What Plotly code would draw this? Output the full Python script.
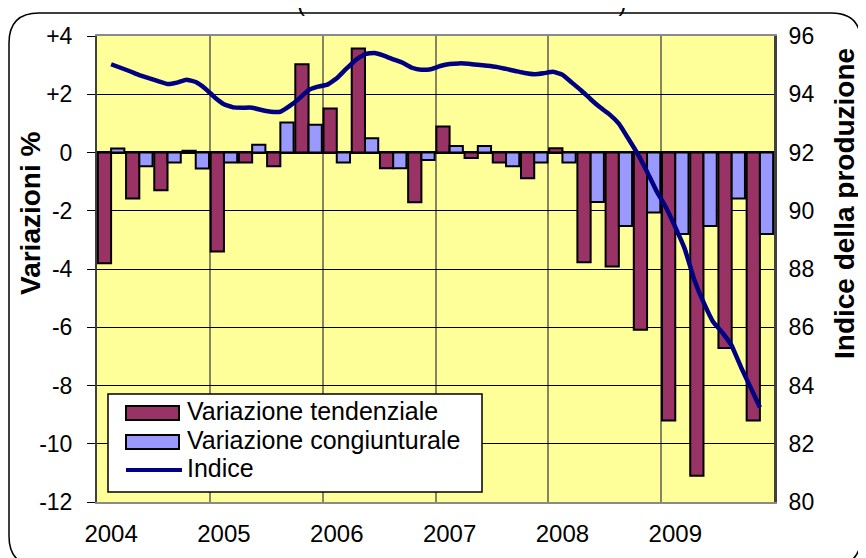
import plotly.graph_objects as go

# ---------------- data ----------------
years = [2004, 2005, 2006, 2007, 2008, 2009]
year_labels = ["2004", "2005", "2006", "2007", "2008", "2009"]

# quarterly % changes (Q1..Q4 of each year)
var_tendenziale = [
    -3.80, -1.58, -1.30, 0.06,
    -3.40, -0.34, -0.47, 3.03,
    1.51, 3.57, -0.54, -1.71,
    0.89, -0.19, -0.34, -0.88,
    0.15, -3.77, -3.91, -6.09,
    -9.20, -11.10, -6.71, -9.20,
]
var_congiunturale = [
    0.14, -0.47, -0.34, -0.55,
    -0.34, 0.27, 1.03, 0.95,
    -0.34, 0.49, -0.54, -0.26,
    0.22, 0.22, -0.47, -0.34,
    -0.34, -1.70, -2.52, -2.06,
    -2.80, -2.52, -1.58, -2.80,
]

# production index, monthly (Feb 2004 .. Nov 2009)
indice_start_month = 1  # months after Jan 2004
indice = [
    95.03, 94.91, 94.79, 94.66, 94.55, 94.45, 94.35, 94.40, 94.50, 94.42, 94.20,
    93.90, 93.66, 93.55, 93.54, 93.54, 93.46, 93.40, 93.40, 93.60, 93.85, 94.14, 94.26,
    94.33, 94.55, 94.87, 95.17, 95.38, 95.42, 95.33, 95.20, 95.08, 94.91, 94.84, 94.86,
    94.97, 95.04, 95.06, 95.05, 95.01, 94.98, 94.94, 94.87, 94.80, 94.73, 94.69, 94.72,
    94.77, 94.67, 94.40, 94.13, 93.83, 93.55, 93.31, 92.99, 92.48, 91.95, 91.34, 90.68,
    90.12, 89.44, 88.70, 87.65, 86.86, 86.20, 85.82, 85.37, 84.62, 83.94, 83.25,
]

series_names = ["Variazione tendenziale", "Variazione congiunturale", "Indice"]
series_colors = ["#993366", "#9999FF", "#000080"]

left_ticks = [4, 2, 0, -2, -4, -6, -8, -10, -12]
left_tick_text = ["+4", "+2", "0", "-2", "-4", "-6", "-8", "-10", "-12"]
right_ticks = [80, 82, 84, 86, 88, 90, 92, 94, 96]

# ---------------- derived positions ----------------
x_quarter = [y + (q + 0.5) / 4 for y in years for q in range(4)]
x_month = [years[0] + (indice_start_month + i + 0.5) / 12 for i in range(len(indice))]

# page geometry (page has an 8px body margin around the figure)
OFF = 8
W, H = 858, 550
PL, PR, PT, PB = 97, 774, 36, 502  # plot area on the page


def px(x):
    return (x - PL) / (PR - PL)


def py(y):
    return (PB - y) / (PB - PT)


FONT = "Arial, Liberation Sans, sans-serif"

fig = go.Figure()
fig.add_trace(go.Bar(
    x=x_quarter, y=var_tendenziale, name=series_names[0],
    marker=dict(color=series_colors[0], line=dict(color="black", width=2)),
))
fig.add_trace(go.Bar(
    x=x_quarter, y=var_congiunturale, name=series_names[1],
    marker=dict(color=series_colors[1], line=dict(color="black", width=2)),
))
fig.add_trace(go.Scatter(
    x=x_month, y=indice, name=series_names[2], yaxis="y2", mode="lines",
    line=dict(color=series_colors[2], width=4.5, shape="spline", smoothing=0.3),
))

# rounded chart border
x0, x1, y0, y1, r = 9, 861, 13, 566, 30
path = (
    f"M {px(x0 + r)} {py(y0)} L {px(x1 - r)} {py(y0)} "
    f"Q {px(x1)} {py(y0)} {px(x1)} {py(y0 + r)} "
    f"L {px(x1)} {py(y1 - r)} Q {px(x1)} {py(y1)} {px(x1 - r)} {py(y1)} "
    f"L {px(x0 + r)} {py(y1)} Q {px(x0)} {py(y1)} {px(x0)} {py(y1 - r)} "
    f"L {px(x0)} {py(y0 + r)} Q {px(x0)} {py(y0)} {px(x0 + r)} {py(y0)} Z"
)

shapes = [dict(type="path", xref="paper", yref="paper", path=path,
               line=dict(color="black", width=1.5), fillcolor="rgba(0,0,0,0)", layer="above")]

# custom legend (wide Excel-style keys)
LX0, LX1, LY0, LY1 = 108, 482, 394, 492
row_y = [413, 442, 470]
shapes.append(dict(type="rect", xref="paper", yref="paper", x0=px(LX0), x1=px(LX1),
                   y0=py(LY1), y1=py(LY0), fillcolor="white",
                   line=dict(color="black", width=1.5), layer="above"))
annotations = []
for i, name in enumerate(series_names):
    cy = row_y[i]
    if i < 2:
        shapes.append(dict(type="rect", xref="paper", yref="paper", x0=px(126), x1=px(179),
                           y0=py(cy + 7), y1=py(cy - 7), fillcolor=series_colors[i],
                           line=dict(color="black", width=2), layer="above"))
    else:
        shapes.append(dict(type="line", xref="paper", yref="paper", x0=px(126), x1=px(182),
                           y0=py(cy), y1=py(cy), line=dict(color=series_colors[i], width=4),
                           layer="above"))
    annotations.append(dict(text=name, x=px(185), y=py(cy - 2), xref="paper", yref="paper",
                            xanchor="left", yanchor="middle", showarrow=False,
                            font=dict(size=25)))

# axis titles
annotations.append(dict(text="<b>Variazioni %</b>", x=px(31), y=py(214), xref="paper", yref="paper",
                        textangle=-90, showarrow=False, font=dict(size=28),
                        xanchor="center", yanchor="middle"))
annotations.append(dict(text="<b>Indice della produzione</b>", x=px(845), y=py(204), xref="paper",
                        yref="paper", textangle=-90, showarrow=False, font=dict(size=28),
                        xanchor="center", yanchor="middle"))
# title remnant at the top edge
annotations.append(dict(text="(" + "\u00a0" * 47 + ")", x=px(461), y=py(2), xref="paper", yref="paper",
                        xanchor="center", yanchor="middle", showarrow=False, font=dict(size=24)))

fig.update_layout(
    width=W, height=H,
    margin=dict(l=PL - OFF, r=W - (PR - OFF), t=PT - OFF, b=H - (PB - OFF), autoexpand=False),
    paper_bgcolor="white",
    plot_bgcolor="#FFFF99",
    font=dict(family=FONT, size=23, color="black"),
    barmode="group", bargap=0.06, bargroupgap=0,
    showlegend=False,
    xaxis=dict(
        range=[years[0], years[-1] + 1],
        tickvals=[y + 0.125 for y in years], ticktext=year_labels,
        ticks="", showgrid=False, ticklabelstandoff=9,
        minor=dict(tickvals=years[1:], showgrid=True, gridcolor="#85855f", gridwidth=2, ticks=""),
        showline=True, mirror=True, linecolor="#8a8a8a", linewidth=2,
        tickfont=dict(size=24), zeroline=False,
    ),
    yaxis=dict(
        range=[-12, 4], tickvals=left_ticks, ticktext=left_tick_text,
        showgrid=True, gridcolor="black", gridwidth=1,
        zeroline=True, zerolinecolor="black", zerolinewidth=3,
        showline=True, linecolor="#404040", linewidth=2,
        ticks="outside", ticklen=8, tickcolor="black", tickwidth=1,
        ticklabelstandoff=10, tickfont=dict(size=23),
    ),
    yaxis2=dict(
        range=[80, 96], tickvals=right_ticks, overlaying="y", side="right",
        showgrid=False, zeroline=False,
        showline=True, linecolor="#404040", linewidth=3,
        ticks="", ticklabelstandoff=7, tickfont=dict(size=23),
    ),
    shapes=shapes,
    annotations=annotations,
)

fig.write_html("out.html")
